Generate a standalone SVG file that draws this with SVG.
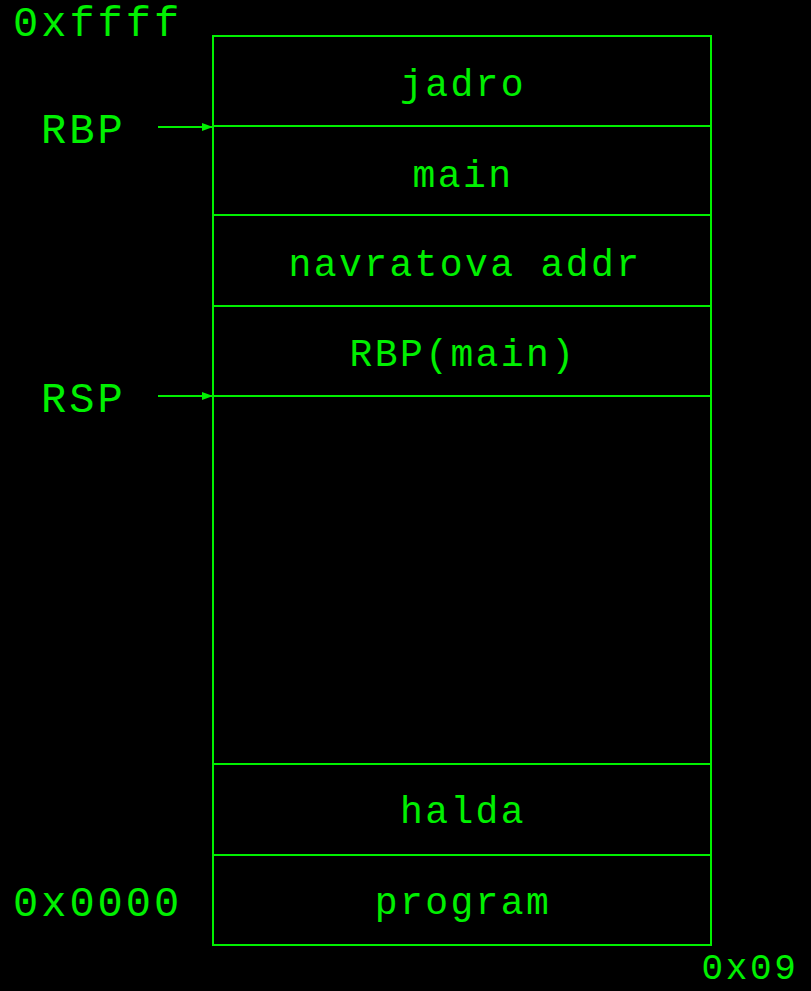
<svg xmlns="http://www.w3.org/2000/svg" width="811" height="991" viewBox="0 0 811 991">
<style>
.t{font-family:"Liberation Mono","Courier New",monospace;fill:#00f000}
.big{font-size:42px;letter-spacing:3px}
.cell{font-size:38px;letter-spacing:2.4px;text-anchor:middle}
.small{font-size:36px;letter-spacing:2.6px;text-anchor:middle}
.ln{stroke:#00f000;stroke-width:2;fill:none}
</style>
<defs>
<marker id="ah" markerWidth="11" markerHeight="8" refX="11" refY="4" orient="auto" markerUnits="userSpaceOnUse">
<path d="M0,0 L11,4 L0,8 z" fill="#00f000"/>
</marker>
</defs>
<rect width="811" height="991" fill="#000"/>
<g id="stack">
<rect class="ln" x="213" y="36" width="498" height="909"/>
</g>
<g id="jadro"><line class="ln" x1="213" y1="126" x2="711" y2="126"/><text class="t cell" x="463" y="96">jadro</text></g>
<g id="main"><line class="ln" x1="213" y1="215" x2="711" y2="215"/><text class="t cell" x="463" y="187">main</text></g>
<g id="navratova"><line class="ln" x1="213" y1="306" x2="711" y2="306"/><text class="t cell" x="465" y="276">navratova addr</text></g>
<g id="rbpmain"><line class="ln" x1="213" y1="396" x2="711" y2="396"/><text class="t cell" x="463" y="366">RBP(main)</text></g>
<g id="halda"><line class="ln" x1="213" y1="764" x2="711" y2="764"/><text class="t cell" x="463" y="823">halda</text></g>
<g id="program"><line class="ln" x1="213" y1="855" x2="711" y2="855"/><text class="t cell" x="463" y="914">program</text></g>
<g id="labels">
<text class="t big" x="13" y="36">0xffff</text>
<text class="t big" x="41" y="143">RBP</text>
<text class="t big" x="41" y="412">RSP</text>
<text class="t big" x="13" y="916">0x0000</text>
<text class="t small" x="750" y="979">0x09</text>
</g>
<g id="connectors">
<line class="ln" x1="158" y1="127" x2="213" y2="127" marker-end="url(#ah)"/>
<line class="ln" x1="158" y1="396" x2="213" y2="396" marker-end="url(#ah)"/>
</g>
</svg>
